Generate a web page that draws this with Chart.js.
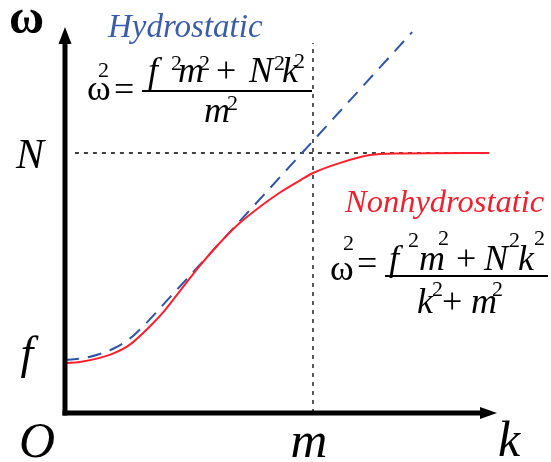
<!DOCTYPE html>
<html>
<head>
<meta charset="utf-8">
<script src="https://cdn.jsdelivr.net/npm/chart.js@4/dist/chart.umd.min.js"></script>
<style>
html,body{margin:0;padding:0;background:#fff;}
#wrap{width:551px;height:462px;}
</style>
</head>
<body>
<div id="wrap"><canvas id="c" width="551" height="462"></canvas></div>
<script>
// ---- data (k in units of m, omega in units of N) ----
const M = 1.0;          // k = m
const N_FREQ = 1.0;     // omega = N
const F_RED = 0.192;    // omega at k = 0 (nonhydrostatic)
const K_RED = [0, 0.06, 0.14, 0.20, 0.26, 0.34, 0.40, 0.46, 0.54, 0.62, 0.70, 0.79, 0.87, 0.95, 1.0, 1.11, 1.23, 1.35, 1.71];
const W_RED = [0.192, 0.196, 0.212, 0.231, 0.262, 0.331, 0.392, 0.465, 0.562, 0.650, 0.727, 0.796, 0.850, 0.896, 0.923, 0.962, 0.992, 0.998, 1.0];
const K_BLUE = [0, 0.08, 0.14, 0.20, 0.26, 0.34, 0.42, 0.51, 1.40];
const W_BLUE = [0.204, 0.212, 0.227, 0.250, 0.285, 0.358, 0.442, 0.535, 1.465];
const K_NLINE = [0.04, 1.71];
const W_MLINE_TOP = 1.423;
const X_MAX = 1.742, Y_MAX = 1.473;

const pts = (xs, ys) => xs.map((x, i) => ({x, y: ys[i]}));

const SERIF = '"Liberation Serif", serif';
const RED = '#ff1f2c', BLUE = '#2e56a8';

function txt(ctx, s, x, y, font, color, align) {
  ctx.font = font; ctx.fillStyle = color || '#000';
  ctx.textAlign = align || 'left'; ctx.textBaseline = 'alphabetic';
  ctx.fillText(s, x, y);
}

const decor = {
  id: 'decor',
  afterDatasetsDraw(chart) {
    const ctx = chart.ctx, a = chart.chartArea;
    const xs = chart.scales.x, ys = chart.scales.y;
    const x0 = xs.getPixelForValue(0), y0 = ys.getPixelForValue(0);
    ctx.save();
    // axes
    ctx.strokeStyle = '#000'; ctx.fillStyle = '#000'; ctx.lineWidth = 5; ctx.lineCap = 'butt';
    ctx.beginPath(); ctx.moveTo(x0, y0 + 2.5); ctx.lineTo(x0, a.top + 14); ctx.stroke();
    ctx.beginPath(); ctx.moveTo(x0 - 2.5, y0); ctx.lineTo(a.right - 14, y0); ctx.stroke();
    ctx.beginPath(); ctx.moveTo(x0, a.top - 3); ctx.lineTo(x0 - 6.5, a.top + 14); ctx.lineTo(x0 + 6.5, a.top + 14); ctx.closePath(); ctx.fill();
    ctx.beginPath(); ctx.moveTo(a.right, y0); ctx.lineTo(a.right - 17, y0 - 6); ctx.lineTo(a.right - 17, y0 + 6); ctx.closePath(); ctx.fill();

    // axis labels
    const I = (s) => 'italic ' + s + 'px ' + SERIF;
    txt(ctx, 'ω', 9, 33, 'bold 48px ' + SERIF);
    txt(ctx, 'N', 30, ys.getPixelForValue(N_FREQ) + 15, I(42), '#000', 'center');
    txt(ctx, 'f', 27, ys.getPixelForValue(F_RED) + 5, I(46), '#000', 'center');
    txt(ctx, 'O', 37, 457, I(50), '#000', 'center');
    txt(ctx, 'm', xs.getPixelForValue(M) - 4, 457, I(51), '#000', 'center');
    txt(ctx, 'k', 509, 456, I(50), '#000', 'center');

    // titles
    txt(ctx, 'Hydrostatic', 108, 37, I(33), '#3a5dab');
    txt(ctx, 'Nonhydrostatic', 345, 212, I(32.5), '#f0202e');

    // formulas
    const F = I(36), R = '36px ' + SERIF, S = '22px ' + SERIF;
    const bar = (x1, x2, y) => { ctx.fillStyle = '#000'; ctx.fillRect(x1, y - 1, x2 - x1, 2); };
    // hydrostatic
    txt(ctx, 'ω', 87, 100, R); txt(ctx, '2', 98, 77, S); txt(ctx, '=', 114, 101, R);
    bar(142, 312, 91);
    txt(ctx, 'f', 148, 82, F); txt(ctx, '2', 171, 70, S);
    txt(ctx, 'm', 178, 82, F); txt(ctx, '2', 199, 70, S);
    txt(ctx, '+', 216, 82, R);
    txt(ctx, 'N', 249, 82, F); txt(ctx, '2', 274, 70, S);
    txt(ctx, 'k', 282, 82, F); txt(ctx, '2', 294, 68, S);
    txt(ctx, 'm', 204, 122, F); txt(ctx, '2', 227, 110, S);
    // nonhydrostatic
    txt(ctx, 'ω', 330, 280, R); txt(ctx, '2', 343, 250, S); txt(ctx, '=', 357, 275, R);
    bar(385, 548, 276);
    txt(ctx, 'f', 389, 270, F); txt(ctx, '2', 408, 247, S);
    txt(ctx, 'm', 419, 270, F); txt(ctx, '2', 438, 245, S);
    txt(ctx, '+', 456, 270, R);
    txt(ctx, 'N', 484, 270, F); txt(ctx, '2', 509, 247, S);
    txt(ctx, 'k', 518, 270, F); txt(ctx, '2', 534, 245, S);
    txt(ctx, 'k', 417, 313, F); txt(ctx, '2', 432, 296, S);
    txt(ctx, '+', 442, 313, R);
    txt(ctx, 'm', 471, 313, F); txt(ctx, '2', 492, 296, S);
    ctx.restore();
  }
};

new Chart(document.getElementById('c'), {
  type: 'scatter',
  data: {
    datasets: [
      { data: pts(K_RED, W_RED), showLine: true, borderColor: RED, borderWidth: 2,
        cubicInterpolationMode: 'monotone', pointRadius: 0, order: 1, clip: false },
      { data: pts(K_BLUE, W_BLUE), showLine: true, borderColor: BLUE, borderWidth: 2,
        borderDash: [14, 9], cubicInterpolationMode: 'monotone', pointRadius: 0, order: 2, clip: false },
      { data: pts(K_NLINE, [N_FREQ, N_FREQ]), showLine: true, borderColor: '#000', borderWidth: 1.3,
        borderDash: [4, 5], pointRadius: 0, order: 3 },
      { data: pts([M, M], [0, W_MLINE_TOP]), showLine: true, borderColor: '#000', borderWidth: 1.3,
        borderDash: [4, 5], pointRadius: 0, order: 3 }
    ]
  },
  options: {
    responsive: false, animation: false, devicePixelRatio: 1,
    layout: { padding: { left: 65, right: 54, top: 30, bottom: 49 } },
    plugins: { legend: { display: false }, tooltip: { enabled: false } },
    scales: {
      x: { type: 'linear', min: 0, max: X_MAX, display: false },
      y: { type: 'linear', min: 0, max: Y_MAX, display: false }
    }
  },
  plugins: [decor]
});
</script>
</body>
</html>
